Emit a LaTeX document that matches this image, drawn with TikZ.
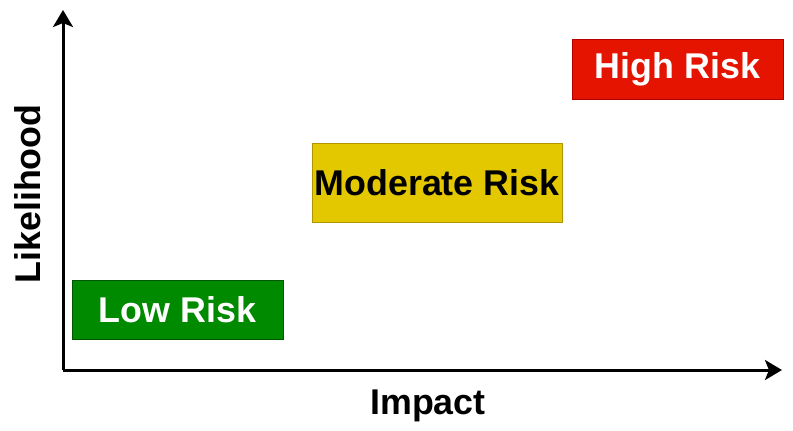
\documentclass[tikz,border=0pt]{standalone}
\usepackage{fontspec}
\setmainfont{Liberation Sans}
\usepackage{xcolor}
\usepackage{tikz}
\usetikzlibrary{arrows.meta,positioning}

\definecolor{lowfill}{HTML}{008A00}
\definecolor{lowdraw}{HTML}{005700}
\definecolor{modfill}{HTML}{E3C800}
\definecolor{moddraw}{HTML}{B09500}
\definecolor{highfill}{HTML}{E51400}
\definecolor{highdraw}{HTML}{B20000}

\begin{document}
\begin{tikzpicture}[x=0.5pt, y=-0.5pt]
    % Define styles
    \tikzstyle{risk} = [rectangle, line width=0.5pt, inner sep=0pt, font=\fontsize{17.9}{21}\selectfont\bfseries]
    \tikzstyle{axis} = [line width=1.5pt, -{Stealth[length=8.5pt, width=10pt, inset=2pt]}]
    \tikzstyle{axistext} = [font=\fontsize{17.9}{21}\selectfont\bfseries]

    \useasboundingbox (0,0) rectangle (793,430);

    % Axes
    \coordinate (origin) at (63,370);
    \coordinate (ytip) at (63,10);
    \coordinate (xtip) at (782,370);
    \draw[axis] (origin) -- (ytip);
    \draw[axis] (origin) -- (xtip);

    % Axis labels
    \node[axistext] (impact) at (428,406) {Impact};
    \node[axistext, rotate=90] (likelihood) at (28,194) {Likelihood};

    % Risk levels
    \node[risk, draw=lowdraw, fill=lowfill, text=white, minimum width=105.5pt, minimum height=29.5pt] (low) at (177.5,310) {Low Risk};
    \node[risk, draw=moddraw, fill=modfill, text=black, minimum width=125pt, minimum height=39.5pt] (moderate) at (437,183) {Moderate Risk};
    \node[risk, draw=highdraw, fill=highfill, text=white, minimum width=105.5pt, minimum height=30pt] (high) at (677.5,69.5) {High Risk};

\end{tikzpicture}
\end{document}
